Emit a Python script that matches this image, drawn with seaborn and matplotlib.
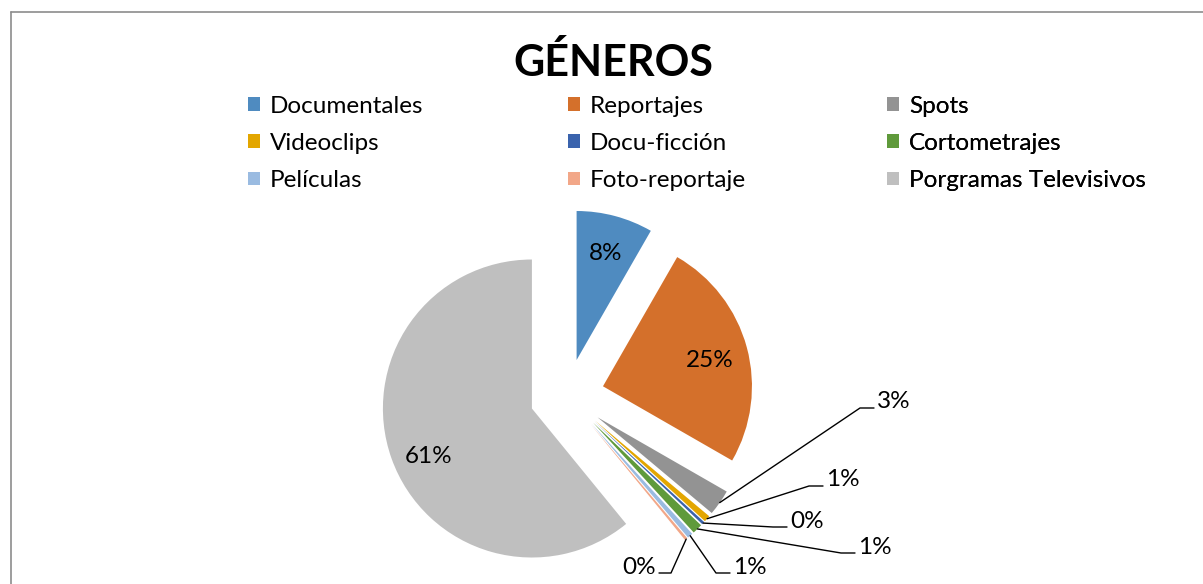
import numpy as np
import seaborn as sns
import matplotlib.pyplot as plt
from matplotlib.lines import Line2D

generos = ['Documentales', 'Reportajes', 'Spots', 'Videoclips', 'Docu-ficción',
           'Cortometrajes', 'Películas', 'Foto-reportaje', 'Porgramas Televisivos']
porcentajes = [8.3, 25.0, 2.8, 0.7, 0.3, 1.1, 0.6, 0.3, 60.9]
colores = ['#4F8BC0', '#D4702B', '#939393', '#E3A600', '#3A63AD',
           '#5F9A3B', '#9ABBE1', '#F2A788', '#BFBFBF']

sns.set_theme(style='white')
plt.rcParams['font.family'] = ['Lato', 'DejaVu Sans']

W, H = 1203, 584
fig = plt.figure(figsize=(W / 100, H / 100), dpi=100)
ax = fig.add_axes([0, 0, 1, 1])

# marco del grafico (recortado a la derecha y abajo)
fig.add_artist(Line2D([10.5 / W, 1], [1 - 11.5 / H, 1 - 11.5 / H], color='#8C8C8C', lw=1.2))
fig.add_artist(Line2D([10.5 / W, 10.5 / W], [0, 1 - 11.5 / H], color='#8C8C8C', lw=1.2))

centro = (567, H - 396)
radio = 149
expl = 0.25 * radio  # explode va en unidades de datos
wedges, textos = ax.pie(porcentajes, colors=sns.color_palette(colores), startangle=90,
                        counterclock=False, explode=[expl] * len(porcentajes),
                        center=centro, radius=radio, frame=True,
                        wedgeprops=dict(linewidth=0))
ax.set_xlim(0, W)
ax.set_ylim(0, H)
ax.set_aspect('auto')
ax.axis('off')

etiquetas = [f'{p:.0f}%' for p in porcentajes]

# etiquetas grandes dentro de la porcion
for i, dist in [(0, 0.76), (1, 0.74), (8, 0.76)]:
    w = wedges[i]
    ang = np.deg2rad((w.theta1 + w.theta2) / 2 + (4 if i == 8 else 0))
    cx, cy = w.center
    ax.text(cx + dist * radio * np.cos(ang), cy + dist * radio * np.sin(ang) - 3, etiquetas[i],
            ha='center', va='center', fontsize=17.5, color='black')

# etiquetas pequeñas con lineas guia (posicion del texto en pixeles)
pos_texto = {2: (877, 402, 'left'), 3: (826, 480, 'left'), 4: (790, 521, 'left'),
             5: (858, 547, 'left'), 6: (733, 567, 'left'), 7: (656, 567, 'right')}
for i, (tx, ty, ha) in pos_texto.items():
    w = wedges[i]
    ang = np.deg2rad((w.theta1 + w.theta2) / 2)
    cx, cy = w.center
    px, py = cx + radio * np.cos(ang), cy + radio * np.sin(ang)
    ty = H - ty
    ly = ty - 6
    hx = tx - 3 if ha == 'left' else tx + 3
    kx = hx - 14 if ha == 'left' else hx + 12
    ax.plot([px, kx, hx], [py, ly, ly], color='black', lw=1)
    ax.text(tx, ty, etiquetas[i], ha=ha, va='center', fontsize=17.5, color='black')

ax.text(613, H - 62, 'GÉNEROS', ha='center', va='center', fontsize=31,
        fontweight='bold', color='black')

# leyenda en tres columnas, ordenada por filas
for col, x0 in enumerate([248, 568, 887]):
    idx = [col, col + 3, col + 6]
    leg = ax.legend([wedges[j] for j in idx], [generos[j] for j in idx],
                    loc='upper left', bbox_to_anchor=(x0, H - 96), bbox_transform=ax.transData,
                    frameon=False, fontsize=17.5, handlelength=0.5, handleheight=0.5,
                    handletextpad=0.4, labelspacing=0.66, borderpad=0, borderaxespad=0,
                    labelcolor='black')
    ax.add_artist(leg)

fig.savefig('out.png', dpi=100)
